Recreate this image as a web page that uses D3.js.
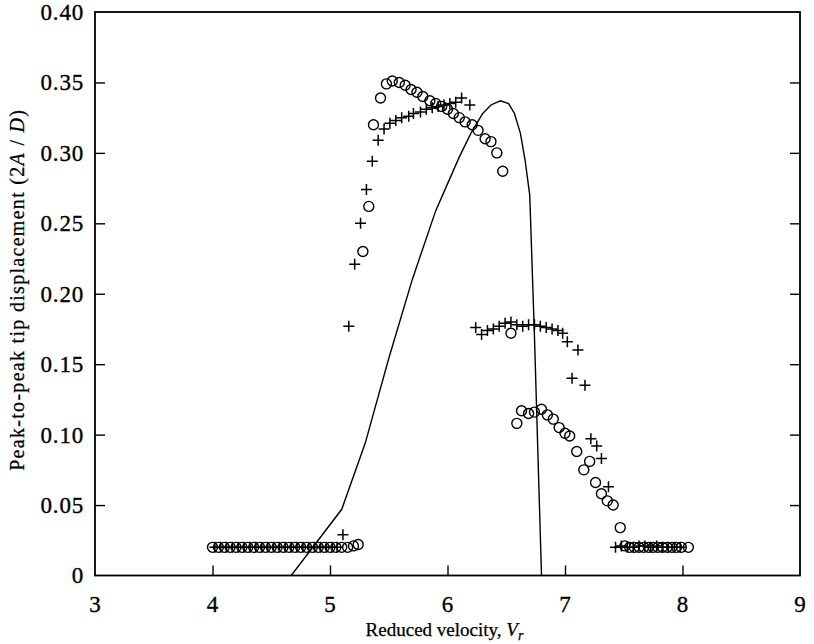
<!DOCTYPE html>
<html><head><meta charset="utf-8">
<script src="https://cdn.jsdelivr.net/npm/d3@7"></script>
<style>body{margin:0;background:#fff}svg{display:block}</style>
</head><body>
<svg id="c" width="814" height="644"></svg>
<script>
const xTicks = [3,4,5,6,7,8,9];
const yTicks = [0,0.05,0.10,0.15,0.20,0.25,0.30,0.35,0.40];

// circle series (experiment, open circles)
const circleX = [4.00,4.05,4.10,4.15,4.20,4.25,4.30,4.35,4.40,4.45,4.50,4.55,4.60,4.65,4.70,4.75,4.80,4.85,4.90,4.95,5.00,5.05,5.10,5.15,5.20,5.24,
  5.28,5.33,5.37,5.43,5.48,5.53,5.59,5.64,5.69,5.74,5.79,5.85,5.90,5.95,6.00,6.05,6.10,6.15,6.21,6.26,6.32,6.37,6.42,6.47,
  6.54,6.59,6.63,6.69,6.74,6.80,6.85,6.90,6.95,7.00,7.04,7.10,7.16,7.21,7.26,7.31,7.36,7.41,7.47,
  7.51,7.55,7.59,7.63,7.67,7.71,7.75,7.79,7.83,7.87,7.91,7.95,7.99,8.05];
const circleY = [0.020,0.020,0.020,0.020,0.020,0.020,0.020,0.020,0.020,0.020,0.020,0.020,0.020,0.020,0.020,0.020,0.020,0.020,0.020,0.020,0.020,0.020,0.020,0.020,0.021,0.022,
  0.230,0.262,0.320,0.339,0.349,0.351,0.350,0.348,0.345,0.343,0.340,0.337,0.335,0.333,0.331,0.328,0.325,0.322,0.320,0.316,0.310,0.308,0.300,0.287,
  0.172,0.108,0.117,0.115,0.116,0.118,0.114,0.111,0.105,0.101,0.099,0.088,0.075,0.081,0.066,0.058,0.053,0.050,0.034,
  0.021,0.020,0.020,0.020,0.020,0.020,0.020,0.020,0.020,0.020,0.020,0.020,0.020,0.020];

// cross series (experiment, plus markers)
const crossX = [4.02,4.07,4.12,4.17,4.22,4.27,4.32,4.37,4.42,4.47,4.52,4.57,4.62,4.67,4.72,4.77,4.82,4.87,4.92,4.97,5.02,5.06,5.11,
  5.16,5.21,5.26,5.31,5.36,5.41,5.46,5.51,5.56,5.61,5.67,5.71,5.77,5.82,5.87,5.92,5.97,6.02,6.07,6.12,6.19,
  6.24,6.29,6.34,6.39,6.44,6.49,6.54,6.59,6.64,6.69,6.74,6.79,6.84,6.89,6.94,6.98,7.02,7.06,7.11,7.17,7.22,7.27,7.31,7.37,
  7.43,7.48,7.53,7.58,7.63,7.68,7.73,7.78,7.83,7.88,7.93,7.98];
const crossY = [0.020,0.020,0.020,0.020,0.020,0.020,0.020,0.020,0.020,0.020,0.020,0.020,0.020,0.020,0.020,0.020,0.020,0.020,0.020,0.020,0.020,0.020,0.029,
  0.177,0.221,0.250,0.274,0.294,0.309,0.317,0.321,0.323,0.325,0.326,0.328,0.329,0.331,0.332,0.333,0.334,0.335,0.336,0.339,0.334,
  0.176,0.171,0.174,0.175,0.177,0.179,0.180,0.178,0.177,0.178,0.178,0.177,0.176,0.175,0.174,0.172,0.166,0.140,0.160,0.135,0.097,0.092,0.083,0.063,
  0.020,0.021,0.020,0.020,0.021,0.021,0.020,0.021,0.020,0.020,0.020,0.020];

// theoretical curve
const lineX = [4.67,5.10,5.30,5.50,5.70,5.90,6.00,6.10,6.20,6.30,6.37,6.45,6.52,6.57,6.62,6.66,6.70,6.74,6.80];
const lineY = [0,0.047,0.094,0.154,0.210,0.259,0.278,0.297,0.314,0.328,0.334,0.337,0.335,0.328,0.314,0.295,0.270,0.170,0];

const svg = d3.select("#c");
const L=95, R=800, T=12, B=575.5;
const x = d3.scaleLinear().domain([3,9]).range([L,R]);
const y = d3.scaleLinear().domain([0,0.40]).range([B,T]);
const font = "'Liberation Serif','Times New Roman',serif";

const fmtY = d => d===0 ? "0" : d.toFixed(2);

// axes with inward ticks
const gB = svg.append("g").attr("transform",`translate(0,${B})`)
  .call(d3.axisBottom(x).tickValues(xTicks).tickSize(-10).tickPadding(20).tickFormat(d3.format("d")));
const gL = svg.append("g").attr("transform",`translate(${L},0)`)
  .call(d3.axisLeft(y).tickValues(yTicks).tickSize(-10).tickPadding(11).tickFormat(fmtY));
const gR = svg.append("g").attr("transform",`translate(${R},0)`)
  .call(d3.axisRight(y).tickValues(yTicks).tickSize(-10).tickFormat(""));
[gB,gL,gR].forEach(g=>{
  g.select(".domain").remove();
  g.selectAll(".tick line").attr("stroke","#000").attr("stroke-width",1.4);
  g.selectAll("text").attr("font-family",font).attr("font-size",23).attr("letter-spacing",0.8)
    .attr("fill","#000").attr("stroke","#000").attr("stroke-width",0.35);
});
gB.selectAll(".tick").filter(d=>d===3||d===9).select("line").remove();
gL.selectAll(".tick").filter(d=>d===0||d===0.40).select("line").remove();
gR.selectAll(".tick").filter(d=>d===0||d===0.40).select("line").remove();

svg.append("rect").attr("x",L).attr("y",T).attr("width",R-L).attr("height",B-T)
  .attr("fill","none").attr("stroke","#000").attr("stroke-width",1.8);

svg.append("clipPath").attr("id","pc").append("rect")
  .attr("x",L).attr("y",T).attr("width",R-L).attr("height",B-T);

// theoretical line
const lineData = lineX.map((v,i)=>[v,lineY[i]]);
svg.append("path").datum(lineData)
  .attr("clip-path","url(#pc)")
  .attr("d", d3.line().x(d=>x(d[0])).y(d=>y(d[1])))
  .attr("fill","none").attr("stroke","#000").attr("stroke-width",1.4);

// circles
const cData = circleX.map((v,i)=>[v,circleY[i]]);
svg.append("g").selectAll("circle").data(cData).join("circle")
  .attr("cx",d=>x(d[0])).attr("cy",d=>y(d[1])).attr("r",5)
  .attr("fill","none").attr("stroke","#000").attr("stroke-width",1.4);

// crosses
const pData = crossX.map((v,i)=>[v,crossY[i]]);
const s = 5.5;
svg.append("g").selectAll("path").data(pData).join("path")
  .attr("d",d=>{const cx=x(d[0]), cy=y(d[1]); return `M${cx-s},${cy}H${cx+s}M${cx},${cy-s}V${cy+s}`;})
  .attr("fill","none").attr("stroke","#000").attr("stroke-width",1.5);

// axis titles
const xt = svg.append("text").attr("x",(L+R)/2-3).attr("y",636)
  .attr("text-anchor","middle").attr("font-family",font).attr("font-size",19)
  .attr("fill","#000").attr("stroke","#000").attr("stroke-width",0.25);
xt.append("tspan").text("Reduced velocity, ");
xt.append("tspan").attr("font-style","italic").text("V");
xt.append("tspan").attr("font-style","italic").attr("font-size",14).attr("dy",4).text("r");

const yt = svg.append("text").attr("transform",`translate(24,${(T+B)/2-4}) rotate(-90)`)
  .attr("text-anchor","middle").attr("font-family",font).attr("font-size",20)
  .attr("letter-spacing",1.3).attr("fill","#000").attr("stroke","#000").attr("stroke-width",0.25);
yt.append("tspan").text("Peak-to-peak tip displacement (2");
yt.append("tspan").attr("font-style","italic").text("A");
yt.append("tspan").text(" / ");
yt.append("tspan").attr("font-style","italic").text("D");
yt.append("tspan").text(")");
</script>
</body></html>
